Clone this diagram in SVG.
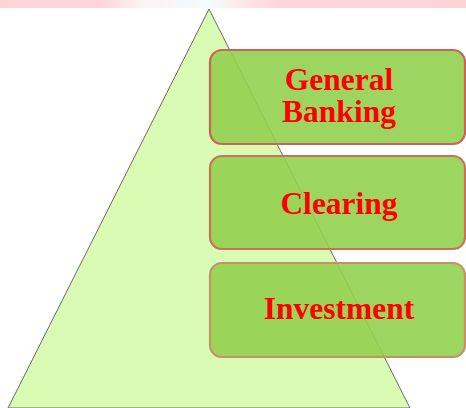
<svg xmlns="http://www.w3.org/2000/svg" width="466" height="408" viewBox="0 0 466 408">
  <defs>
    <linearGradient id="band" x1="0" y1="0" x2="466" y2="0" gradientUnits="userSpaceOnUse">
      <stop offset="0" stop-color="#fdd3d6"/>
      <stop offset="0.22" stop-color="#fdd6d9"/>
      <stop offset="0.3" stop-color="#fbf2f4"/>
      <stop offset="0.45" stop-color="#f4fbfd"/>
      <stop offset="0.53" stop-color="#fde4e7"/>
      <stop offset="0.6" stop-color="#fdd6d9"/>
      <stop offset="1" stop-color="#fdd3d6"/>
    </linearGradient>
    <style>
      .tier { fill: #92d050; fill-opacity: 0.9; stroke-width: 2.2; }
      .label { font-family: "Liberation Serif", "Times New Roman", serif; font-weight: bold; font-size: 31.5px; fill: #ff0000; text-anchor: middle; }
    </style>
  </defs>

  <rect width="466" height="408" fill="#ffffff"/>
  <!-- top banner strip -->
  <rect x="0" y="0" width="466" height="8" fill="url(#band)"/>

  <!-- pyramid -->
  <g id="pyramid">
    <polygon points="209,9 8,408 410,408" fill="#d9fbb3" stroke="#5a5a5a" stroke-width="0.9" stroke-linejoin="miter"/>
  </g>

  <g id="general-banking">
    <rect class="tier" x="210" y="50" width="255" height="94" rx="12" stroke="#c96457"/>
    <text class="label" x="339" y="90">General</text>
    <text class="label" x="339" y="122">Banking</text>
  </g>

  <g id="clearing">
    <rect class="tier" x="210" y="156" width="255" height="93" rx="12" stroke="#c8725a"/>
    <text class="label" x="339" y="214">Clearing</text>
  </g>

  <g id="investment">
    <rect class="tier" x="210" y="263" width="255" height="94" rx="12" stroke="#c69166"/>
    <text class="label" x="339" y="319">Investment</text>
  </g>
</svg>
